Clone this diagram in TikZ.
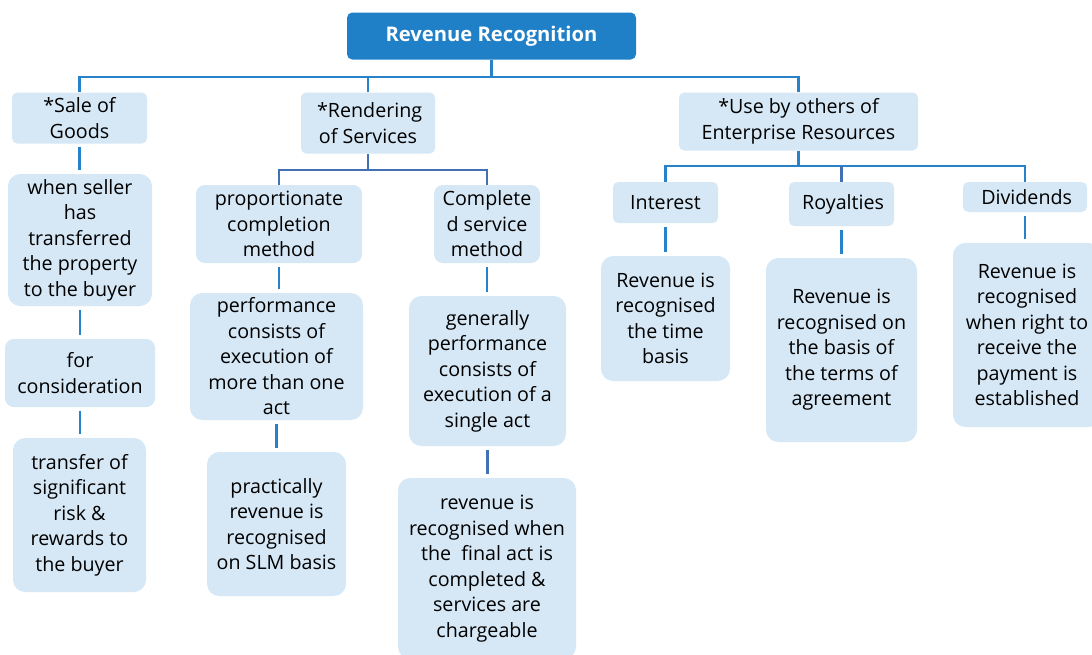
\documentclass[tikz,border=0pt]{standalone}
\usepackage{fontspec}
\setmainfont{Open Sans}
\usetikzlibrary{calc}

\definecolor{headblue}{RGB}{31,128,200}
\definecolor{boxblue}{RGB}{214,232,246}
\definecolor{linkblue}{RGB}{40,130,202}
\definecolor{linkdark}{RGB}{66,112,180}
\def\pxu{0.02cm}

\begin{document}
\begin{tikzpicture}[
  x=0.02cm, y=-0.02cm,
  every node/.style = {font=\fontsize{11.2}{14.5}\selectfont, align=center, inner sep=0pt},
  head/.style = {fill=headblue, text=white, rounded corners=3pt, font=\fontsize{11.5}{14}\selectfont\bfseries},
  topic/.style = {fill=boxblue, rounded corners=3pt},
  leaf/.style = {fill=boxblue, rounded corners=7pt},
  link/.style = {draw=linkblue, line width=1.6pt},
  darklink/.style = {link, draw=linkdark},
  gap/.style = {shorten <=2pt, shorten >=2pt}
]

% Canvas
\fill[white] (0,0) rectangle (1092,654);
\useasboundingbox (0,0) rectangle (1092,654);

% Root
\node[head, minimum width=289*\pxu, minimum height=47*\pxu] (root) at (491.5,36) {Revenue Recognition};

% Level 1
\node[topic, minimum width=135*\pxu, minimum height=51*\pxu] (sale) at (79.5,118) {*Sale of\\Goods};
\node[topic, minimum width=134*\pxu, minimum height=61*\pxu] (rend) at (368,123) {\,*Rendering\\of Services};
\node[topic, minimum width=239*\pxu, minimum height=58*\pxu] (use) at (798.5,121.5) {*Use by others of\\Enterprise Resources};

% Sale of goods column
\node[leaf, minimum width=144*\pxu, minimum height=132*\pxu] (seller) at (80,240) {when seller\\has\\transferred\\the property\\to the buyer};
\node[topic, rounded corners=5pt, minimum width=150*\pxu, minimum height=68*\pxu] (consid) at (80,373) {for\\consideration};
\node[leaf, minimum width=133*\pxu, minimum height=154*\pxu] (risk) at (79.5,515) {transfer of\\significant\\risk \&\\rewards to\\the buyer};

% Rendering of services column
\node[topic, rounded corners=5pt, minimum width=166*\pxu, minimum height=78*\pxu] (prop) at (279,224) {proportionate\\completion\\method};
\node[leaf, minimum width=173*\pxu, minimum height=127*\pxu] (more) at (276.5,356.5) {performance\\consists of\\execution of\\more than one\\act};
\node[leaf, minimum width=139*\pxu, minimum height=144*\pxu] (slm) at (276.5,524) {practically\\revenue is\\recognised\\on SLM basis};
\node[topic, rounded corners=5pt, minimum width=106*\pxu, minimum height=78*\pxu] (compl) at (487,224) {Complete\\d service\\method};
\node[leaf, minimum width=157*\pxu, minimum height=150*\pxu] (single) at (487.5,371) {generally\\performance\\consists of\\execution of a\\single act};
\node[leaf, minimum width=178*\pxu, minimum height=181*\pxu] (final) at (487,568.5) {revenue is\\recognised when\\the \ final act is\\completed \&\\services are\\chargeable};

% Use by others column
\node[topic, minimum width=105*\pxu, minimum height=41*\pxu] (interest) at (665.5,202.5) {Interest};
\node[topic, minimum width=105*\pxu, minimum height=44*\pxu] (royal) at (841.5,204) {\,Royalties};
\node[topic, minimum width=124*\pxu, minimum height=30*\pxu] (divid) at (1025,197) {\,Dividends};
\node[leaf, minimum width=129*\pxu, minimum height=125*\pxu] (timeb) at (665.5,318.5) {Revenue is\\recognised\\the time\\basis};
\node[leaf, minimum width=151*\pxu, minimum height=184*\pxu] (terms) at (841.5,350) {Revenue is\\recognised on\\the basis of\\the terms of\\agreement};
\node[leaf, minimum width=148*\pxu, minimum height=184*\pxu] (right) at (1027,335) {Revenue is\\recognised\\when right to\\receive the\\payment is\\established};

% Buses
\coordinate (bus1) at (0,77);
\coordinate (bus2) at (0,170);
\coordinate (bus3) at (0,166);

% Root to level 1
\draw[link] (root.south) -- (root.south |- bus1);
\draw[link] (sale.north) |- (use.north |- bus1) -- (use.north);
\draw[link] (rend.north) -- (rend.north |- bus1);

% Rendering branches
\draw[darklink] (rend.south) -- (rend.south |- bus2);
\draw[darklink] (prop.north) |- (compl.north |- bus2) -- (compl.north);

% Use by others branches
\draw[link] (use.south) -- (use.south |- bus3);
\draw[link] (interest.north) |- (divid.north |- bus3) -- (divid.north);
\draw[darklink] (royal.north) -- (royal.north |- bus3);

% Stems
\draw[link, gap] (sale.south) -- (sale.south |- seller.north);
\draw[link, gap] (seller.south) -- (seller.south |- consid.north);
\draw[link, gap] (consid.south) -- (consid.south |- risk.north);
\draw[link, gap] (prop.south) -- (prop.south |- more.north);
\draw[link, gap] (more.south) -- (more.south |- slm.north);
\draw[link, gap] (compl.south) -- (compl.south |- single.north);
\draw[darklink, gap] (single.south) -- (single.south |- final.north);
\draw[link, gap] (interest.south) -- (interest.south |- timeb.north);
\draw[link, gap] (royal.south) -- (royal.south |- terms.north);
\draw[link, gap] (divid.south) -- (divid.south |- right.north);

\end{tikzpicture}
\end{document}
